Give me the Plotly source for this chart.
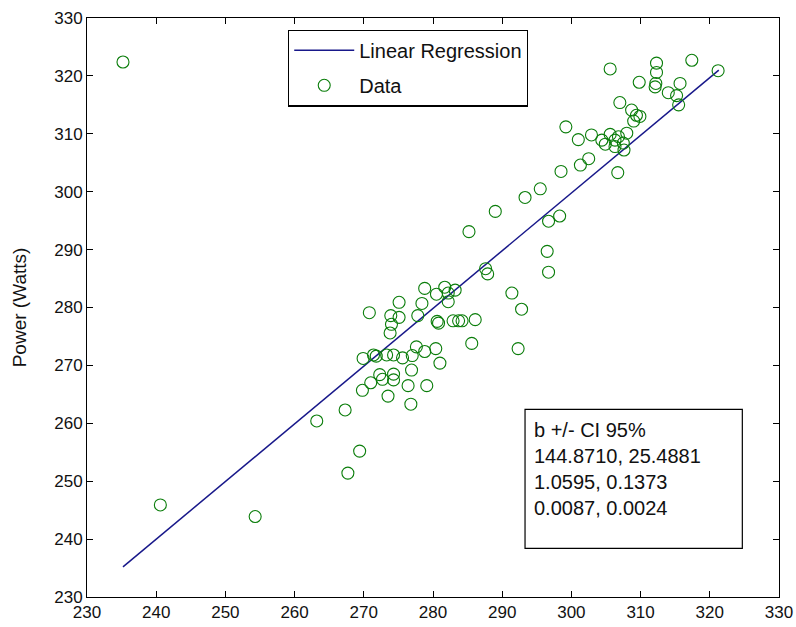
import plotly.graph_objects as go

# Data points (x value, power in watts)
data_x = [235.2, 240.6, 254.3, 263.2, 267.3, 267.7, 269.4, 269.8, 269.9, 270.8,
          271.0, 271.4, 271.8, 272.3, 272.7, 273.3, 273.5, 273.8, 274.0, 273.9,
          274.3, 274.3, 274.3, 275.1, 275.1, 275.6, 276.4, 276.8, 276.9, 277.0,
          277.6, 277.8, 278.4, 278.8, 278.8, 279.1, 280.4, 280.6, 280.8, 281.0,
          280.5, 281.7, 282.2, 282.2, 283.2, 282.9, 283.7, 284.2, 286.1, 285.6,
          285.2, 287.6, 287.9, 289.0, 291.4, 292.8, 292.3, 293.3, 295.5, 296.7,
          296.5, 296.7, 298.3, 298.5, 299.2, 301.0, 301.3, 302.5, 302.9, 304.4,
          304.9, 305.6, 305.6, 306.3, 306.3, 306.7, 306.8, 307.0, 307.5, 307.6,
          308.0, 308.7, 309.0, 309.4, 309.8, 309.9, 312.1, 312.2, 312.3, 312.3,
          314.0, 315.2, 315.5, 315.7, 317.4, 321.2]
data_y = [322.4, 245.9, 243.9, 260.4, 262.3, 251.4, 255.2, 265.7, 271.2, 279.1,
          267.0, 271.8, 271.6, 268.4, 267.6, 271.8, 264.7, 275.6, 277.1, 278.6,
          267.5, 268.5, 271.8, 278.3, 280.9, 271.3, 266.5, 263.3, 269.2, 271.7,
          273.2, 278.6, 280.7, 283.3, 272.4, 266.5, 272.9, 277.6, 277.3, 270.4,
          282.3, 283.5, 282.5, 281.0, 283.0, 277.7, 277.7, 277.7, 277.9, 273.8,
          293.1, 286.7, 285.8, 296.6, 282.5, 279.7, 272.9, 299.0, 300.5, 294.9,
          289.7, 286.1, 295.8, 303.5, 311.2, 309.0, 304.6, 305.7, 309.8, 308.9,
          308.2, 309.9, 321.2, 308.9, 307.8, 303.3, 309.5, 315.4, 308.4, 307.2,
          310.1, 314.1, 312.2, 313.2, 318.9, 313.0, 318.1, 318.7, 322.2, 320.6,
          317.1, 316.6, 315.0, 318.7, 322.7, 320.9]

# Regression line end points
fit_x = [235.2, 321.3]
fit_y = [235.2, 321.0]

# Text box contents
stats_lines = ["b +/- CI 95%", "144.8710, 25.4881", "1.0595, 0.1373", "0.0087, 0.0024"]

axis_ticks = [230, 240, 250, 260, 270, 280, 290, 300, 310, 320, 330]
y_title = "Power (Watts)"

FONT = "Liberation Sans, Arial, Helvetica, sans-serif"
TXT = "#111111"

fig = go.Figure()
fig.add_trace(go.Scatter(
    x=fit_x, y=fit_y, mode="lines", name="Linear Regression", legendgroup="fit",
    line=dict(color="#18188a", width=1.5),
))
fig.add_trace(go.Scatter(
    x=data_x, y=data_y, mode="markers", name="Data", legendgroup="data",
    marker=dict(symbol="circle-open", size=12, color="#0a7d0a",
                line=dict(width=1.1, color="#0a7d0a")),
))

axis_common = dict(
    range=[230, 330], tickvals=axis_ticks, ticktext=[str(t) for t in axis_ticks],
    ticks="inside", ticklen=6, tickwidth=1, tickcolor="black",
    showline=True, linecolor="black", linewidth=1, mirror="ticks",
    showgrid=False, zeroline=False,
    tickfont=dict(family=FONT, size=17, color=TXT),
)

fig.update_xaxes(**axis_common)
fig.update_yaxes(**axis_common,
                 title=dict(text=y_title, font=dict(family=FONT, size=19, color=TXT),
                            standoff=22))

# statistics box
fig.add_shape(type="rect", xref="paper", yref="paper",
              x0=0.633, x1=0.947, y0=0.084, y1=0.324,
              line=dict(color="black", width=1.2), fillcolor="white", layer="above")
fig.add_annotation(xref="paper", yref="paper", x=0.643, y=0.311,
                   xanchor="left", yanchor="top", align="left", showarrow=False,
                   text="<br>".join(stats_lines),
                   font=dict(family=FONT, size=20, color=TXT))

fig.update_layout(
    width=796, height=627,
    margin=dict(l=87, r=17, t=18, b=30, autoexpand=False),
    paper_bgcolor="white", plot_bgcolor="white",
    showlegend=True,
    legend=dict(x=0.2905, y=0.98, xanchor="left", yanchor="top",
                bordercolor="black", borderwidth=1.2, bgcolor="white",
                font=dict(family=FONT, size=20, color=TXT),
                traceorder="grouped", tracegroupgap=6, itemwidth=60),
)

fig.write_html("out.html")
